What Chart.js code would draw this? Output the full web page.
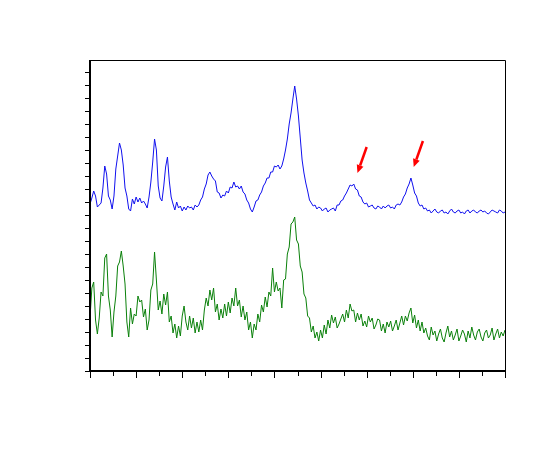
<!DOCTYPE html>
<html>
<head>
<meta charset="utf-8">
<script src="https://cdn.jsdelivr.net/npm/chart.js@4"></script>
<style>
html, body { margin: 0; padding: 0; background: #fff; }
</style>
</head>
<body>
<canvas id="spectraChart" width="548" height="454"></canvas>
<script>
// 2-theta axis: 5..50 deg, one reading every 0.2 deg
const twoThetaStart = 5;
const twoThetaStep = 0.2;

// upper trace (blue)
const blueCounts = [
    167,173,180,175,164,166,168,183,205,197,
    175,171,162,175,202,215,228,221,206,183,
    175,162,160,172,167,174,169,173,168,170,
    167,163,174,189,209,232,221,185,173,170,
    185,204,214,190,174,167,161,169,163,165,
    160,164,161,165,163,164,161,166,164,166,
    171,174,182,187,196,199,195,192,190,179,
    178,173,176,175,180,178,184,183,189,184,
    185,182,185,179,177,171,168,162,159,164,
    170,171,176,179,185,188,193,193,199,199,
    205,204,206,202,205,212,221,232,247,258,
    272,285,272,255,233,211,198,188,180,171,
    168,165,166,162,164,163,160,162,163,159,
    161,162,163,160,166,166,170,171,175,178,
    182,186,185,187,182,181,175,174,169,167,
    168,164,165,166,163,162,165,164,162,165,
    163,165,166,163,164,162,166,167,166,169,
    174,177,183,187,193,186,178,175,168,165,
    166,162,163,160,161,158,160,162,159,158,
    160,161,158,159,157,160,162,159,158,160,
    161,158,159,157,160,161,158,160,161,159,
    158,160,161,159,160,158,157,159,161,160,
    159,158,161,160,158,159
];

// lower trace (green)
const greenCounts = [
    53,83,89,51,37,53,79,75,113,117,
    75,61,34,59,75,105,109,120,105,87,
    49,34,63,47,57,55,75,69,71,54,
    62,41,51,81,87,119,91,61,70,57,
    77,66,79,49,55,38,47,33,45,35,
    55,65,49,41,55,43,53,38,49,39,
    51,41,61,73,65,81,71,83,59,67,
    51,62,53,67,55,69,58,73,65,83,
    65,71,54,65,51,59,41,49,33,47,
    41,57,49,66,59,74,64,79,75,103,
    79,89,80,83,63,91,92,117,124,147,
    149,154,131,127,105,99,77,73,55,53,
    39,45,33,39,30,41,33,46,37,51,
    43,56,48,54,43,47,52,57,49,61,
    53,67,60,61,49,58,51,57,45,50,
    44,55,49,53,42,46,52,51,40,47,
    38,49,44,50,40,45,51,41,48,55,
    46,55,50,58,63,48,56,43,51,40,
    49,38,43,35,31,44,36,40,30,37,
    42,33,29,38,45,34,40,31,36,42,
    30,35,41,37,29,40,33,44,36,31,
    39,42,34,30,38,41,33,36,43,31,
    37,42,33,39,35,41
];

// axis ticks (no labels shown)
const xMajorTicks = [5, 10, 15, 20, 25, 30, 35, 40, 45, 50];
const xMinorTicks = [7.5, 12.5, 17.5, 22.5, 27.5, 32.5, 37.5, 42.5, 47.5];
const yTicks = [0,13,26,39,52,65,78,91,104,117,130,143,156,169,182,195,208,221,234,247,260,273,286,299];

// red arrows pointing at the two weak peaks [2theta, counts]
const arrowTails = [[35.0, 224], [41.1, 230]];
const arrowTips = [[34.0, 198], [40.1, 204]];

const toPoints = arr => arr.map((v, i) => ({ x: twoThetaStart + i * twoThetaStep, y: v }));

const axisDecor = {
    id: 'axisDecor',
    afterDatasetsDraw(chart) {
        const { ctx, chartArea: a, scales: { x, y } } = chart;
        ctx.save();
        ctx.strokeStyle = '#000';
        ctx.lineWidth = 1;
        ctx.beginPath();
        xMajorTicks.forEach(v => {
            const px = Math.round(x.getPixelForValue(v)) + 0.5;
            ctx.moveTo(px, a.bottom); ctx.lineTo(px, a.bottom + 7);
        });
        xMinorTicks.forEach(v => {
            const px = Math.round(x.getPixelForValue(v)) + 0.5;
            ctx.moveTo(px, a.bottom); ctx.lineTo(px, a.bottom + 5);
        });
        yTicks.forEach(v => {
            const py = Math.round(y.getPixelForValue(v)) + 0.5;
            ctx.moveTo(a.left, py); ctx.lineTo(a.left - 5, py);
        });
        ctx.stroke();

        // thin top / right frame
        ctx.beginPath();
        ctx.moveTo(a.left, a.top + 0.5);
        ctx.lineTo(a.right + 0.5, a.top + 0.5);
        ctx.lineTo(a.right + 0.5, a.bottom);
        ctx.stroke();

        // heavier left / bottom axes
        ctx.lineWidth = 2;
        ctx.beginPath();
        ctx.moveTo(a.left, a.top);
        ctx.lineTo(a.left, a.bottom);
        ctx.lineTo(a.right + 1, a.bottom);
        ctx.stroke();

        // arrows
        ctx.strokeStyle = '#ff0000';
        ctx.fillStyle = '#ff0000';
        arrowTails.forEach((t, k) => {
            const x0 = x.getPixelForValue(t[0]), y0 = y.getPixelForValue(t[1]);
            const x1 = x.getPixelForValue(arrowTips[k][0]), y1 = y.getPixelForValue(arrowTips[k][1]);
            const ang = Math.atan2(y1 - y0, x1 - x0);
            const head = 8, half = 3.5;
            const bx = x1 - head * Math.cos(ang), by = y1 - head * Math.sin(ang);
            ctx.lineWidth = 2.5;
            ctx.beginPath();
            ctx.moveTo(x0, y0);
            ctx.lineTo(bx, by);
            ctx.stroke();
            ctx.beginPath();
            ctx.moveTo(x1, y1);
            ctx.lineTo(bx + half * Math.sin(ang), by - half * Math.cos(ang));
            ctx.lineTo(bx - half * Math.sin(ang), by + half * Math.cos(ang));
            ctx.closePath();
            ctx.fill();
        });
        ctx.restore();
    }
};

const ctx = document.getElementById('spectraChart').getContext('2d');
const spectraChart = new Chart(ctx, {
    type: 'line',
    data: {
        datasets: [{
            label: 'upper',
            data: toPoints(blueCounts),
            borderColor: '#1010ee',
            borderWidth: 1,
            pointRadius: 0,
            tension: 0
        },
        {
            label: 'lower',
            data: toPoints(greenCounts),
            borderColor: '#0a800a',
            borderWidth: 1,
            pointRadius: 0,
            tension: 0
        }]
    },
    options: {
        responsive: false,
        animation: false,
        layout: {
            padding: { left: 90, top: 60, right: 43, bottom: 83 }
        },
        scales: {
            x: {
                type: 'linear',
                min: 5,
                max: 50,
                ticks: { display: false },
                grid: { display: false },
                border: { display: false },
                afterFit: s => { s.height = 0; }
            },
            y: {
                min: 0,
                max: 311,
                ticks: { display: false },
                grid: { display: false },
                border: { display: false },
                afterFit: s => { s.width = 0; }
            }
        },
        plugins: {
            legend: { display: false },
            tooltip: { enabled: false }
        }
    },
    plugins: [axisDecor]
});
</script>
</body>
</html>
